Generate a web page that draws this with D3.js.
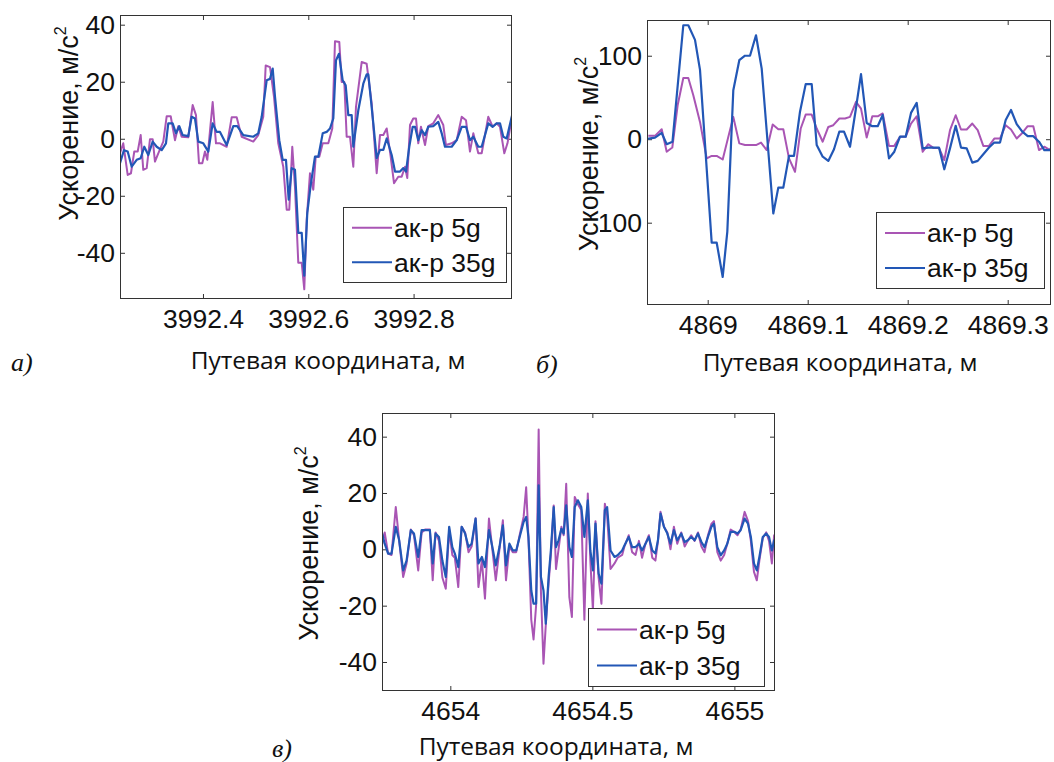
<!DOCTYPE html>
<html>
<head>
<meta charset="utf-8">
<script src="https://cdn.jsdelivr.net/npm/d3@7"></script>
<style>
  body { margin: 0; background: #fff; }
  .tick text { font-family: "Liberation Sans", Arial, sans-serif; font-size: 26.5px; fill: #111; }
  .tick line { stroke: #333; }
  .ylabel { font-family: "Liberation Sans", Arial, sans-serif; font-size: 27px; fill: #111; }
  .xlabel { font-family: "Open Sans", sans-serif; font-size: 24.5px; fill: #111; }
  .plabel { font-family: "Liberation Serif", serif; font-style: italic; font-size: 26px; fill: #111; }
  .legend text { font-family: "Liberation Sans", Arial, sans-serif; font-size: 26.5px; fill: #111; }
</style>
</head>
<body>
<svg id="chart" width="1054" height="762"></svg>
<script>
// ---- data ----
var seriesNames = ["ак-р 5g", "ак-р 35g"];
var yTitle = "Ускорение, м/с";
var xTitle = "Путевая координата, м";

// panel a
var aTicksX = [3992.4, 3992.6, 3992.8];
var aTicksY = [-40, -20, 0, 20, 40];
var aX5 = [3992.2424,3992.2486,3992.2570,3992.2632,3992.2695,3992.2760,3992.2817,3992.2866,3992.2931,3992.2993,3992.3045,3992.3088,3992.3151,3992.3246,3992.3311,3992.3387,3992.3468,3992.3531,3992.3595,3992.3721,3992.3804,3992.3867,3992.3924,3992.3987,3992.4038,3992.4082,3992.4184,3992.4247,3992.4323,3992.4450,3992.4545,3992.4640,3992.4735,3992.4955,3992.5050,3992.5145,3992.5191,3992.5273,3992.5349,3992.5430,3992.5525,3992.5590,3992.5639,3992.5696,3992.5747,3992.5810,3992.5875,3992.5924,3992.5970,3992.6032,3992.6095,3992.6141,3992.6209,3992.6274,3992.6380,3992.6456,3992.6507,3992.6589,3992.6634,3992.6684,3992.6729,3992.6792,3992.6855,3992.6906,3992.7014,3992.7109,3992.7204,3992.7299,3992.7362,3992.7425,3992.7489,3992.7565,3992.7628,3992.7709,3992.7774,3992.7837,3992.7880,3992.7932,3992.7994,3992.8046,3992.8089,3992.8140,3992.8217,3992.8279,3992.8374,3992.8469,3992.8564,3992.8615,3992.8724,3992.8819,3992.8914,3992.8995,3992.9071,3992.9134,3992.9229,3992.9293,3992.9419,3992.9502,3992.9578,3992.9641,3992.9723,3992.9783,3992.9875];
var aY5 = [-5.1,-1.6,-12.7,-12.1,-4.5,-4.5,1.3,-10.9,-10.3,-0.2,-0.2,-8,-5.1,-1,7.9,7.9,-0.5,4.4,0.7,0.5,11.8,8.3,-8.6,-8.6,-4.5,-7.4,12.9,-1.6,-1.6,-2.8,7.5,7.5,0.7,-1,1.3,7.7,25.7,25.1,14.7,-1.6,-9.8,-24.9,-24.9,-2.8,-16.8,-43.5,-43.5,-52.8,-28.4,-12.1,-17.9,-6.3,-6.3,-1.6,-1.6,3.6,34.2,33.9,19.9,19.9,0.7,0.7,-9.8,11.2,26.9,26.3,12.4,-12.1,1.3,1.3,3.6,-6.3,-15.6,-13.3,-13.3,-9.8,-13.8,4.8,7.1,7.1,-1.6,4.2,-2.2,4.4,5.4,8.3,4.8,-2.2,-1.6,-0.5,7.7,6.5,-4.5,1.9,-5.1,-5.1,7.7,4.2,5.4,4.2,-5.1,-1.6,8.3];
var aX35 = [3992.2424,3992.2499,3992.2570,3992.2646,3992.2741,3992.2817,3992.2885,3992.2961,3992.3045,3992.3121,3992.3216,3992.3297,3992.3341,3992.3424,3992.3487,3992.3550,3992.3614,3992.3721,3992.3785,3992.3848,3992.3911,3992.4006,3992.4101,3992.4184,3992.4260,3992.4323,3992.4450,3992.4576,3992.4651,3992.4765,3992.4955,3992.5050,3992.5115,3992.5210,3992.5273,3992.5324,3992.5368,3992.5449,3992.5514,3992.5576,3992.5628,3992.5685,3992.5747,3992.5810,3992.5875,3992.5924,3992.5981,3992.6046,3992.6127,3992.6190,3992.6274,3992.6349,3992.6412,3992.6475,3992.6526,3992.6583,3992.6653,3992.6710,3992.6760,3992.6824,3992.6855,3992.6950,3992.7045,3992.7109,3992.7140,3992.7235,3992.7299,3992.7362,3992.7425,3992.7489,3992.7584,3992.7647,3992.7742,3992.7805,3992.7856,3992.7918,3992.7983,3992.8027,3992.8089,3992.8154,3992.8217,3992.8279,3992.8374,3992.8469,3992.8534,3992.8596,3992.8724,3992.8819,3992.8914,3992.8995,3992.9071,3992.9134,3992.9229,3992.9293,3992.9419,3992.9502,3992.9578,3992.9641,3992.9704,3992.9768,3992.9875];
var aY35 = [-8.6,-4,-4.5,-9.8,-7.4,-6.8,-2.8,-5.7,-1,-2.8,-4,-1.6,5.4,5.4,1.9,4.4,1.3,0.9,7.7,7.1,-1,-1.6,-4.5,5.4,2.4,2.4,-2.2,4.4,4.4,1.3,0.7,1.9,7.7,20.5,21,24.6,14.7,-0.5,-7.4,-7.4,-21.4,-10.3,-10.9,-33,-33,-48,-26,-16.2,-6.3,-6.3,1.9,2.4,3.6,7.1,27.5,29.8,20.5,18.7,8.3,8.3,-2.8,10,19.3,22.6,22.6,5.4,-6.8,-3.9,-3.9,0.1,-5.7,-11.5,-11.5,-10.3,-11.5,-2.8,4.2,4.2,-0.5,3,1.3,4.2,4.4,5.9,1.9,-2.8,-2.8,-0.5,4.2,4.2,-0.5,0.7,-2.8,-2.8,5.4,4.2,5.4,5.4,0.7,0.1,8.6];

// panel b
var bTicksX = [4869, 4869.1, 4869.2, 4869.3];
var bTicksY = [-100, 0, 100];
var bX5 = [4868.9406,4868.9473,4868.954,4868.959,4868.9646,4868.97,4868.9756,4868.9806,4868.9856,4868.9923,4868.999,4869.004,4869.009,4869.015,4869.0206,4869.0256,4869.0316,4869.0373,4869.0423,4869.0483,4869.0533,4869.059,4869.065,4869.0706,4869.0756,4869.0813,4869.0873,4869.093,4869.098,4869.104,4869.109,4869.115,4869.1206,4869.1256,4869.1316,4869.1373,4869.1423,4869.1483,4869.1533,4869.159,4869.1646,4869.17,4869.175,4869.1813,4869.1866,4869.1923,4869.198,4869.2033,4869.209,4869.215,4869.2206,4869.2256,4869.2313,4869.2366,4869.2423,4869.248,4869.2533,4869.259,4869.2646,4869.27,4869.2756,4869.2813,4869.2866,4869.2923,4869.298,4869.3033,4869.309,4869.3146,4869.32,4869.3256,4869.3313,4869.3366,4869.3423,4869.3463];
var bY5 = [4,4,12,-15,-10,41,73.4,73.4,52.7,20.7,-23,-20,-20,-24.3,2.8,26.7,-5,-7,-7,-7,-4,-13,17.6,12,12,-23,-39,12.8,29.5,29.5,12.8,-3,14.7,16.8,24.8,24.8,26.7,44.7,36.7,2,27.5,27.5,30.8,-8,-8,3,3,18.8,27.5,-15,-6,-10.4,-10.4,-25,10.8,28.7,11.6,11.6,18.8,10.8,-8,-8,0.8,0.8,16.8,11.6,0.8,7.5,15.6,15.6,-13,-9,-13,-11];
var bX35 = [4868.9393,4868.9473,4868.954,4868.959,4868.9648,4868.9756,4868.9806,4868.9873,4868.9923,4869.004,4869.009,4869.015,4869.0196,4869.0256,4869.0316,4869.0373,4869.0423,4869.0483,4869.054,4869.0656,4869.0706,4869.0756,4869.0813,4869.0863,4869.0923,4869.098,4869.104,4869.109,4869.115,4869.1206,4869.1263,4869.1316,4869.1363,4869.1423,4869.148,4869.1533,4869.159,4869.1646,4869.17,4869.175,4869.1813,4869.1866,4869.1923,4869.198,4869.2033,4869.209,4869.215,4869.2206,4869.2313,4869.2366,4869.2423,4869.248,4869.2533,4869.259,4869.2646,4869.27,4869.2756,4869.2813,4869.2866,4869.2923,4869.298,4869.3033,4869.309,4869.3146,4869.32,4869.3256,4869.3313,4869.3366,4869.3423,4869.3463];
var bY35 = [0.5,2,7.5,-6,-3,136.5,136.5,119,83,-124,-124,-165,-111,58.7,94.6,100,100,124.5,84.6,-89,-58,-58,-20,-20,33,66,66,-7,-21,-26,-12,9,9,-9,35,78,19.5,15.6,15.6,29,-23,-15,3,3,31.5,43.5,-11,-10,-10,-36,-11,16,-10,-11,-28,-26,-18,-10,-4,-4,23,35,18,9,3.6,3.6,-3,-13,-13,-3];

// panel c (both sensors share the same sample positions)
var cTicksX = [4654, 4654.5, 4655];
var cTicksY = [-40, -20, 0, 20, 40];
var cX = [4653.760,4653.769,4653.781,4653.793,4653.808,4653.820,4653.834,4653.846,4653.861,4653.872,4653.887,4653.899,4653.911,4653.928,4653.938,4653.948,4653.960,4653.972,4653.984,4653.996,4654.007,4654.016,4654.028,4654.040,4654.052,4654.064,4654.075,4654.089,4654.099,4654.111,4654.122,4654.136,4654.148,4654.160,4654.173,4654.185,4654.196,4654.208,4654.220,4654.232,4654.244,4654.258,4654.267,4654.275,4654.285,4654.293,4654.302,4654.311,4654.319,4654.328,4654.336,4654.346,4654.354,4654.364,4654.372,4654.381,4654.391,4654.399,4654.408,4654.419,4654.428,4654.438,4654.449,4654.461,4654.472,4654.484,4654.493,4654.502,4654.511,4654.522,4654.532,4654.544,4654.552,4654.564,4654.578,4654.589,4654.605,4654.613,4654.628,4654.640,4654.652,4654.664,4654.675,4654.687,4654.699,4654.711,4654.722,4654.731,4654.740,4654.752,4654.764,4654.775,4654.787,4654.799,4654.813,4654.825,4654.836,4654.848,4654.860,4654.872,4654.884,4654.895,4654.907,4654.919,4654.928,4654.940,4654.952,4654.964,4654.975,4654.987,4655.001,4655.011,4655.022,4655.036,4655.048,4655.058,4655.069,4655.079,4655.088,4655.100,4655.112,4655.122,4655.132,4655.140,4655.146];
var cY5 = [2,6,-1.5,-2,15,3,-9.8,-5,7,5,-7.5,6,7,7,-11,6,3,-10,-14,7,-2,-3,-13.4,8,6,-1,1,11,-13.4,-4,-17.5,10.9,0,-11,0,10.3,-11,1,-1,-1,5,11.5,22,4,-25,-32,-20,42.5,-15,-40.6,-27,-12,-2,15.6,-7,0,8,5,23.3,-17,-24,18.6,16,14,-25,19.8,-4,-21.7,10,-10,-19.3,16.2,12,-7,-5,-3,-2,1,5,-1,-2,3,-3,2,5,-3,-4,3,13.3,8,6,0,8,2,6,1,3,5,3,6,1,-1,5,9,10,-1,-4,-2,2,7,6,5,7,13.3,10,3,-8,-11,-4,4,6,3,-5,5,-3];
var cY35 = [5.6,2,-1.5,-1.5,8,3.2,-7.5,-4,6.8,5.6,-2.7,6.8,6.8,6.8,-5,5.6,4.4,-4,-9.8,8,0.8,-1.5,-6.3,8,5.6,0.8,2,10.9,-5,-2.7,-6.3,6.8,0.8,-5.7,0.8,8.5,-5.7,2,-0.4,-0.4,4.4,9.7,11.5,4.4,-14.6,-19.3,-19.3,22.7,-9.8,-14.6,-26.4,-9.8,-0.4,15,0.8,3.2,7.3,5.6,15.6,0.8,-2.7,15,17.4,15,4.4,17.4,-0.4,-7.5,9.1,-8.6,-12.2,13.9,15,-0.4,-2.7,-2.1,-0.4,1.4,4.4,0.8,0.8,2,-0.4,2,4.4,-0.4,-1.5,3.2,12.7,8,5.6,2,6.8,3.2,5.6,2.6,3.2,4.4,3.2,5.6,2.6,0.8,4.4,8,9.1,0.8,-2.1,-0.4,2,6.2,6.2,5.6,6.8,10.9,9.1,4.4,-5,-7.5,-2.7,4.4,5.6,4.4,-0.4,3.2,2];

var colors = ["#a955b4", "#2257b6"];

// ---- layout ----
var panels = [
  { x: [aX5, aX35], y: [aY5, aY35], xDom: [3992.2424, 3992.9869], yDom: [-56.2, 43.4],
    xTicks: aTicksX, yTicks: aTicksY, fmtX: d3.format(".1f"),
    box: [120, 15, 512, 299], legend: [343, 207, 506, 282],
    yLab: [78, 123.5], xLab: [328, 369], pLab: ["а)", 11, 371] },
  { x: [bX5, bX35], y: [bY5, bY35], xDom: [4868.9393, 4869.3433], yDom: [-198.6, 142.8],
    xTicks: bTicksX, yTicks: bTicksY, fmtX: function(d) { return String(+d.toFixed(1)); },
    box: [647, 20, 1051, 305], legend: [876, 212, 1044, 288],
    yLab: [598, 154], xLab: [840, 371], pLab: ["б)", 536, 373], cover: true },
  { x: [cX, cX], y: [cY5, cY35], xDom: [4653.7595, 4655.143], yDom: [-50.3, 48.4],
    xTicks: cTicksX, yTicks: cTicksY, fmtX: function(d) { return String(+d.toFixed(1)); },
    box: [382, 413, 775, 691], legend: [588, 608, 764, 686],
    yLab: [318, 543.5], xLab: [556, 755], pLab: ["в)", 272, 757] }
];

var svg = d3.select("#chart");

panels.forEach(function(p, k) {
  var x0 = p.box[0], y0 = p.box[1], x1 = p.box[2], y1 = p.box[3];
  var xScale = d3.scaleLinear().domain(p.xDom).range([x0, x1]);
  var yScale = d3.scaleLinear().domain(p.yDom).range([y1, y0]);

  svg.append("clipPath").attr("id", "clip" + k)
    .append("rect").attr("x", x0).attr("y", y0).attr("width", x1 - x0).attr("height", y1 - y0);

  var fmtY = function(d) { return String(d); };

  svg.append("g").attr("transform", "translate(0," + y1 + ")")
    .call(d3.axisBottom(xScale).tickValues(p.xTicks).tickFormat(p.fmtX).tickSizeInner(-5).tickSizeOuter(0).tickPadding(10))
    .call(function(g) { g.select(".domain").remove(); });
  svg.append("g").attr("transform", "translate(0," + y0 + ")")
    .call(d3.axisTop(xScale).tickValues(p.xTicks).tickFormat("").tickSizeInner(-5).tickSizeOuter(0))
    .call(function(g) { g.select(".domain").remove(); });
  svg.append("g").attr("transform", "translate(" + x0 + ",0)")
    .call(d3.axisLeft(yScale).tickValues(p.yTicks).tickFormat(fmtY).tickSizeInner(-5).tickSizeOuter(0).tickPadding(5))
    .call(function(g) { g.select(".domain").remove(); });
  svg.append("g").attr("transform", "translate(" + x1 + ",0)")
    .call(d3.axisRight(yScale).tickValues(p.yTicks).tickFormat("").tickSizeInner(-5).tickSizeOuter(0))
    .call(function(g) { g.select(".domain").remove(); });

  var line = d3.line()
    .x(function(d) { return xScale(d[0]); })
    .y(function(d) { return yScale(d[1]); });

  var plot = svg.append("g").attr("clip-path", "url(#clip" + k + ")");
  [0, 1].forEach(function(s) {
    var pts = p.x[s].map(function(v, i) { return [v, p.y[s][i]]; });
    plot.append("path")
      .datum(pts)
      .attr("fill", "none")
      .attr("stroke", colors[s])
      .attr("stroke-width", s === 1 ? 2.2 : 2)
      .attr("stroke-linejoin", "round")
      .attr("d", line);
  });

  svg.append("rect")
    .attr("x", x0 + 0.5).attr("y", y0 + 0.5)
    .attr("width", x1 - x0 - 1).attr("height", y1 - y0 - 1)
    .attr("fill", "none").attr("stroke", "#333").attr("stroke-width", 1);

  // legend
  var L = p.legend;
  var lg = svg.append("g").attr("class", "legend");
  lg.append("rect")
    .attr("x", L[0] + 0.5).attr("y", L[1] + 0.5)
    .attr("width", L[2] - L[0]).attr("height", L[3] - L[1])
    .attr("fill", "#fff").attr("stroke", "#333").attr("stroke-width", 1);
  var rowH = (L[3] - L[1]) / 2;
  seriesNames.forEach(function(name, s) {
    var cy = L[1] + rowH * (s + 0.5) + (s === 0 ? 2 : -1);
    lg.append("line")
      .attr("x1", L[0] + 9).attr("x2", L[0] + 49)
      .attr("y1", cy).attr("y2", cy)
      .attr("stroke", colors[s]).attr("stroke-width", 2.2);
    lg.append("text")
      .attr("x", L[0] + 51).attr("y", cy).attr("dy", "0.35em")
      .text(name);
  });

  // y label (in panel b it hides the minus sign of the lower tick, as in the source)
  var yl = svg.append("text").attr("class", "ylabel")
    .attr("text-anchor", "middle")
    .attr("transform", "translate(" + p.yLab[0] + "," + p.yLab[1] + ") rotate(-90)");
  yl.append("tspan").text(yTitle);
  yl.append("tspan").attr("font-size", 16).attr("dy", -12).text("2");
  if (p.cover) {
    var bb = yl.node().getBBox();
    svg.append("rect")
      .attr("x", p.yLab[0] - 22).attr("y", p.yLab[1] - bb.width / 2)
      .attr("width", 24).attr("height", bb.width)
      .attr("fill", "#fff");
    yl.raise();
  }

  svg.append("text").attr("class", "xlabel")
    .attr("x", p.xLab[0]).attr("y", p.xLab[1])
    .attr("text-anchor", "middle")
    .text(xTitle);

  svg.append("text").attr("class", "plabel")
    .attr("x", p.pLab[1]).attr("y", p.pLab[2])
    .text(p.pLab[0]);
});
</script>
</body>
</html>
